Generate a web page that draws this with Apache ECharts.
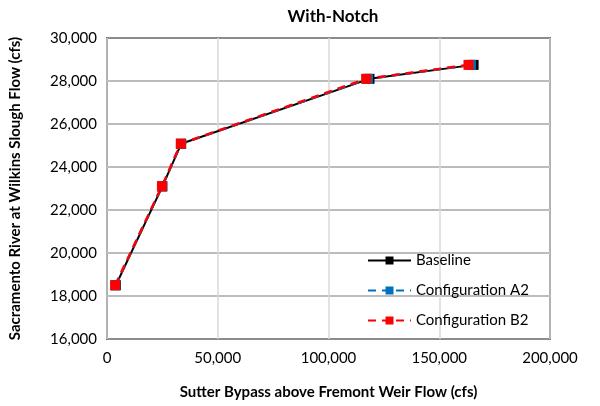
<!DOCTYPE html>
<html>
<head>
<meta charset="utf-8">
<script src="https://cdn.jsdelivr.net/npm/echarts@6/dist/echarts.min.js"></script>
<style>
  html, body { margin: 0; padding: 0; background: #fff; }
  #chart { width: 600px; height: 406px; }
</style>
</head>
<body>
<div id="chart"></div>
<script>
// values (x = Sutter Bypass flow, y = Sacramento River flow)
const baselineX = [4000, 25000, 33500, 118500, 165500];
const baselineY = [18500, 23100, 25080, 28100, 28750];
const configA2X = [3800, 24900, 33400, 117800, 164300];
const configA2Y = [18500, 23100, 25080, 28100, 28750];
const configB2X = [3700, 24800, 33300, 117000, 163200];
const configB2Y = [18500, 23100, 25080, 28100, 28750];

const xTicks = { min: 0, max: 200000, interval: 50000 };
const yTicks = { min: 16000, max: 30000, interval: 2000 };

const font = 'Lato, "Open Sans", sans-serif';
const fmt = v => v.toLocaleString('en-US');
const pairs = (xs, ys) => xs.map((x, i) => [x, ys[i]]);

const myChart = echarts.init(document.getElementById('chart'));

const option = {
  animation: false,
  title: {
    text: 'With-Notch',
    left: 328,
    top: 3,
    textAlign: 'center',
    textStyle: { fontFamily: font, fontSize: 17, fontWeight: 'bold', color: '#000' }
  },
  grid: {
    left: 106, right: 50, top: 38, bottom: 67,
    show: true, borderColor: '#000', borderWidth: 1.5
  },
  legend: {
    orient: 'vertical',
    left: 362, top: 248,
    itemWidth: 43, itemHeight: 10, itemGap: 15,
    textStyle: { fontFamily: font, fontSize: 15, color: '#000' },
    data: ['Baseline', 'Configuration A2', 'Configuration B2']
  },
  xAxis: {
    type: 'value',
    min: xTicks.min, max: xTicks.max, interval: xTicks.interval,
    name: 'Sutter Bypass above Fremont Weir Flow (cfs)',
    nameLocation: 'middle', nameGap: 46,
    nameTextStyle: { fontFamily: font, fontSize: 15, fontWeight: 'bold', color: '#000' },
    axisLine: { show: false },
    axisTick: { show: false },
    axisLabel: { fontFamily: font, fontSize: 15, color: '#000', margin: 12, formatter: fmt },
    splitLine: { lineStyle: { color: '#d9d9d9', width: 1.5 } }
  },
  yAxis: {
    type: 'value',
    min: yTicks.min, max: yTicks.max, interval: yTicks.interval,
    name: 'Sacramento River at Wilkins Slough Flow (cfs)',
    nameLocation: 'middle', nameGap: 84,
    nameTextStyle: { fontFamily: font, fontSize: 15, fontWeight: 'bold', color: '#000' },
    axisLine: { show: false },
    axisTick: { show: false },
    axisLabel: { fontFamily: font, fontSize: 15, color: '#000', margin: 10, formatter: fmt },
    splitLine: { lineStyle: { color: '#a6a6a6', width: 1.5 } }
  },
  series: [
    {
      name: 'Baseline', type: 'line',
      data: pairs(baselineX, baselineY),
      symbol: 'rect', symbolSize: 10,
      itemStyle: { color: '#000' },
      lineStyle: { color: '#000', width: 2 }
    },
    {
      name: 'Configuration A2', type: 'line',
      data: pairs(configA2X, configA2Y),
      symbol: 'rect', symbolSize: 10,
      itemStyle: { color: '#0070c0' },
      lineStyle: { color: '#0070c0', width: 2.5, type: [8, 6] }
    },
    {
      name: 'Configuration B2', type: 'line',
      data: pairs(configB2X, configB2Y),
      symbol: 'rect', symbolSize: 10,
      itemStyle: { color: '#ff0000' },
      lineStyle: { color: '#ff0000', width: 2.5, type: [8, 6] }
    }
  ]
};

myChart.setOption(option);
window.addEventListener('resize', function () {
  myChart.resize();
});
</script>
</body>
</html>
